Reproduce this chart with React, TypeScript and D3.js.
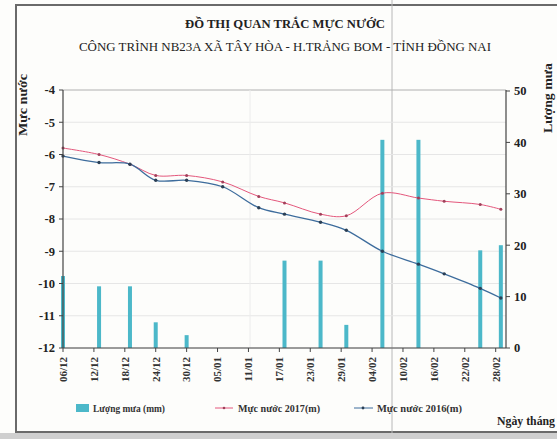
import {default as React} from "react";
import * as d3 from "d3";

// Nhãn trục ngày (6 ngày một vạch)
const tickLabels = ["06/12", "12/12", "18/12", "24/12", "30/12", "05/01", "11/01", "17/01",
    "23/01", "29/01", "04/02", "10/02", "16/02", "22/02", "28/02"];
const tickYears = [2016, 2016, 2016, 2016, 2016, 2017, 2017, 2017,
    2017, 2017, 2017, 2017, 2017, 2017, 2017];

// Ngày quan trắc thực tế
const obsDates = ["06/12/2016", "13/12/2016", "19/12/2016", "24/12/2016", "30/12/2016",
    "06/01/2017", "13/01/2017", "18/01/2017", "25/01/2017", "30/01/2017",
    "06/02/2017", "13/02/2017", "18/02/2017", "25/02/2017", "01/03/2017"];

// Lượng mưa (mm)
const rain = [14, 12, 12, 5, 2.5, 0, 0, 17, 17, 4.5, 40.5, 40.5, 0, 19, 20];

// Mực nước 2017 (m)
const level2017 = [-5.8, -6.0, -6.3, -6.65, -6.65, -6.85, -7.3, -7.5, -7.85, -7.9,
    -7.2, -7.35, -7.45, -7.55, -7.7];

// Mực nước 2016 (m)
const level2016 = [-6.05, -6.25, -6.3, -6.8, -6.8, -7.0, -7.65, -7.85, -8.1, -8.35,
    -9.0, -9.4, -9.7, -10.15, -10.45];

const leftTicks = [-4, -5, -6, -7, -8, -9, -10, -11, -12];
const rightTicks = [0, 10, 20, 30, 40, 50];

const width = 557;
const height = 439;
const margin = {left: 63, right: 51, top: 90, bottom: 91};

const font = "'Liberation Serif', 'DejaVu Serif', serif";
const rainColor = "#4cb8c9";
const redColor = "#e4577c";
const blueColor = "#3d6c9c";

const parse = d3.timeParse("%d/%m/%Y");

export default function App() {
    const obs = obsDates.map(d => parse(d) as Date);
    const ticks = tickLabels.map((t, i) => parse(`${t}/${tickYears[i]}`) as Date);

    const x = d3.scaleTime()
        .domain([parse("06/12/2016") as Date, parse("02/03/2017") as Date])
        .range([margin.left, width - margin.right]);

    const yL = d3.scaleLinear()
        .domain([-12, -4])
        .range([height - margin.bottom, margin.top]);

    const yR = d3.scaleLinear()
        .domain([0, 50])
        .range([height - margin.bottom, margin.top + 1]);

    const line = d3.line<number>()
        .x((d, i) => x(obs[i]))
        .y(d => yL(d))
        .curve(d3.curveCatmullRom.alpha(0.5));

    const x0 = margin.left;
    const x1 = width - margin.right;
    const yBottom = height - margin.bottom;

    return (
        <svg width={width} height={height}
             style={{position: "absolute", left: 0, top: 0, background: "#fdfdfb"}}
             fontFamily={font}>
            {/* khung ngoài */}
            <rect x={0} y={433} width={width} height={6} fill="#cfcfcf"/>
            <rect x={16} y={5} width={width} height={427} fill="none" stroke="#6a6a6a" strokeWidth={2}/>
            <line x1={392} x2={392} y1={0} y2={433} stroke="#b8b8b8" strokeWidth={1}/>

            {/* tiêu đề */}
            <text x={285} y={28} textAnchor="middle" fontSize={12} fontWeight="bold" fill="#222"
                  textLength={200} lengthAdjust="spacingAndGlyphs">ĐỒ THỊ QUAN TRẮC MỰC NƯỚC</text>
            <text x={285} y={51} textAnchor="middle" fontSize={13} fill="#222"
                  textLength={412} lengthAdjust="spacingAndGlyphs">CÔNG TRÌNH NB23A XÃ TÂY HÒA - H.TRẢNG BOM - TỈNH ĐỒNG NAI</text>

            {/* lưới */}
            {leftTicks.map(t => (
                <line key={"g" + t} x1={x0} x2={x1} y1={yL(t)} y2={yL(t)}
                      stroke={t === -4 ? "#b0b0b0" : "#e6e6e6"} strokeWidth={1}/>
            ))}
            <line x1={250} x2={250} y1={margin.top} y2={yBottom} stroke="#ececec"/>

            {/* cột lượng mưa */}
            {rain.map((r, i) => r > 0 && (
                <rect key={"b" + i} x={x(obs[i]) - 2} y={yR(r)}
                      width={4} height={yBottom - yR(r)} fill={rainColor}/>
            ))}

            {/* đường mực nước */}
            <path d={line(level2017) || ""} fill="none" stroke={redColor} strokeWidth={1}/>
            <path d={line(level2016) || ""} fill="none" stroke={blueColor} strokeWidth={1.3}/>
            {level2017.map((v, i) => (
                <circle key={"r" + i} cx={x(obs[i])} cy={yL(v)} r={1.5} fill="#a0405a"/>
            ))}
            {level2016.map((v, i) => (
                <circle key={"u" + i} cx={x(obs[i])} cy={yL(v)} r={1.7} fill="#2a3f55"/>
            ))}

            {/* trục trái */}
            <line x1={x0} x2={x0} y1={margin.top} y2={yBottom} stroke="#444" strokeWidth={1.2}/>
            {leftTicks.map(t => (
                <g key={"l" + t} transform={`translate(${x0},${yL(t)})`}>
                    <line x1={-4} x2={0} stroke="#444"/>
                    <text x={-8} dy="0.35em" textAnchor="end" fontSize={12.5} fontWeight="bold"
                          fill="#222">{t}</text>
                </g>
            ))}

            {/* trục phải */}
            <line x1={x1} x2={x1} y1={margin.top} y2={yBottom} stroke="#444" strokeWidth={1.2}/>
            {rightTicks.map(t => (
                <g key={"rt" + t} transform={`translate(${x1},${yR(t)})`}>
                    <line x1={0} x2={4} stroke="#444"/>
                    <text x={8} dy="0.35em" textAnchor="start" fontSize={12.5} fontWeight="bold"
                          fill="#222">{t}</text>
                </g>
            ))}

            {/* trục ngày */}
            <line x1={x0} x2={x1} y1={yBottom} y2={yBottom} stroke="#444" strokeWidth={1.2}/>
            {ticks.map((d, i) => (
                <g key={"d" + i} transform={`translate(${x(d)},${yBottom})`}>
                    <line y1={0} y2={4} stroke="#444"/>
                    <text transform="rotate(-90)" x={-9} dy="0.35em" textAnchor="end" fontSize={11}
                          fontWeight="bold" fill="#333">{tickLabels[i]}</text>
                </g>
            ))}

            {/* tên trục */}
            <text transform="translate(27,105) rotate(-90)" textAnchor="middle" fontSize={12}
                  fontWeight="bold" fill="#222" textLength={62} lengthAdjust="spacingAndGlyphs">Mực nước</text>
            <text transform="translate(552,98) rotate(-90)" textAnchor="middle" fontSize={12}
                  fontWeight="bold" fill="#222" textLength={70} lengthAdjust="spacingAndGlyphs">Lượng mưa</text>
            <text x={497} y={425} fontSize={12} fontWeight="bold" fill="#222"
                  textLength={58} lengthAdjust="spacingAndGlyphs">Ngày tháng</text>

            {/* chú giải */}
            <rect x={76} y={404} width={13} height={8} fill={rainColor}/>
            <text x={93} y={412} fontSize={10} fontWeight="bold" fill="#333"
                  textLength={72} lengthAdjust="spacingAndGlyphs">Lượng mưa (mm)</text>
            <line x1={215} x2={233} y1={408} y2={408} stroke={redColor}/>
            <circle cx={224} cy={408} r={1.3} fill="#a0405a"/>
            <text x={238} y={412} fontSize={10} fontWeight="bold" fill="#333"
                  textLength={82} lengthAdjust="spacingAndGlyphs">Mực nước 2017(m)</text>
            <line x1={354} x2={373} y1={408} y2={408} stroke={blueColor}/>
            <circle cx={363} cy={408} r={1.4} fill="#2a3f55"/>
            <text x={377} y={412} fontSize={10} fontWeight="bold" fill="#333"
                  textLength={85} lengthAdjust="spacingAndGlyphs">Mực nước 2016(m)</text>
        </svg>
    );
}
